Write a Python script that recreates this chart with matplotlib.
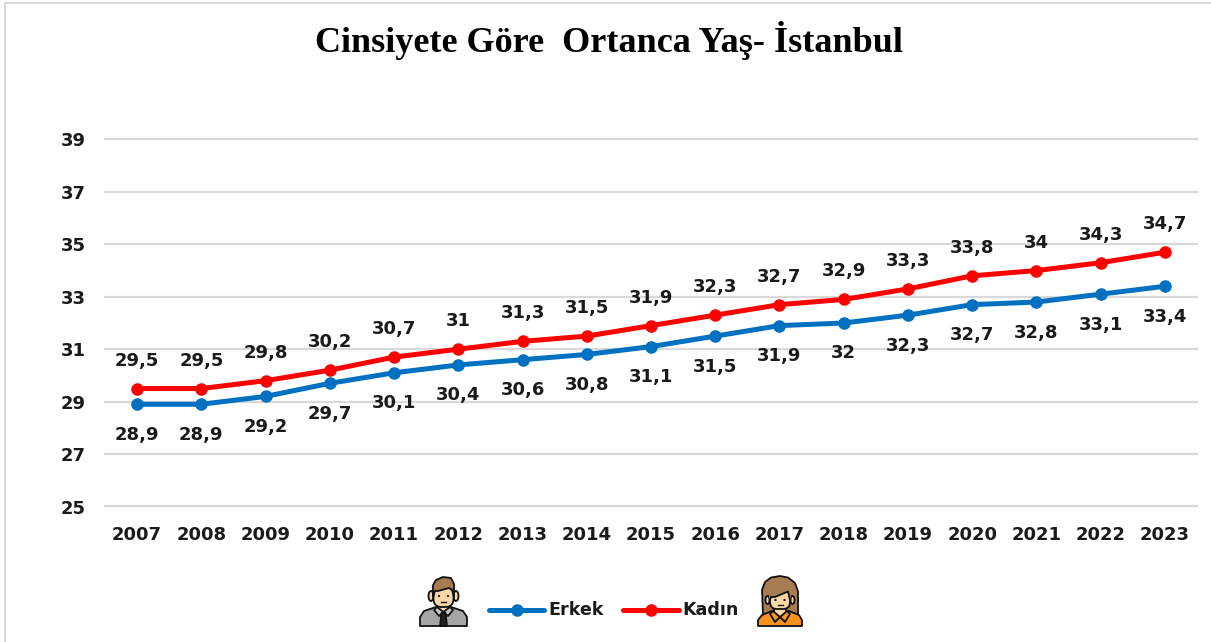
import matplotlib
matplotlib.use("Agg")
import matplotlib.pyplot as plt
from matplotlib.patches import Polygon, Ellipse, Circle, FancyBboxPatch, Rectangle
from matplotlib.lines import Line2D

years = [2007, 2008, 2009, 2010, 2011, 2012, 2013, 2014, 2015, 2016, 2017, 2018, 2019, 2020, 2021, 2022, 2023]
erkek = [28.9, 28.9, 29.2, 29.7, 30.1, 30.4, 30.6, 30.8, 31.1, 31.5, 31.9, 32.0, 32.3, 32.7, 32.8, 33.1, 33.4]
kadin = [29.5, 29.5, 29.8, 30.2, 30.7, 31.0, 31.3, 31.5, 31.9, 32.3, 32.7, 32.9, 33.3, 33.8, 34.0, 34.3, 34.7]
y_ticks = [25, 27, 29, 31, 33, 35, 37, 39]
title = "Cinsiyete Göre  Ortanca Yaş- İstanbul"

W, H = 1211, 642
BLUE, RED, INK = "#0070C0", "#FF0000", "#1a1a1a"
plt.rcParams["font.family"] = ["DejaVu Sans"]
plt.rcParams["font.weight"] = "bold"

fig = plt.figure(figsize=(W / 100, H / 100), dpi=100, facecolor="white")
ax = fig.add_axes([105 / W, 1 - 506.5 / H, (1197 - 105) / W, (506.5 - 139.5) / H])
xs = list(range(len(years)))
ax.set_xlim(-0.5, len(years) - 0.5)
ax.set_ylim(25, 39)
ax.set_yticks(y_ticks)
ax.set_xticks(xs, [str(y) for y in years])
ax.grid(axis="y", color="#d9d9d9", lw=1.6, clip_on=False)
for gl in ax.get_ygridlines():
    gl.set_clip_on(False)
ax.set_axisbelow(True)
for s in ax.spines.values():
    s.set_visible(False)
ax.tick_params(length=0, labelsize=13, labelcolor=INK)
ax.tick_params(axis="x", pad=14)
ax.tick_params(axis="y", pad=14)

def fmt(v):
    return f"{v:g}".replace(".", ",")

for vals, color, off in ((erkek, BLUE, -30.5), (kadin, RED, 28)):
    ax.plot(xs, vals, color=color, lw=3.6, marker="o", ms=8, solid_capstyle="round", clip_on=False, zorder=3)
    for x, v in zip(xs, vals):
        ax.annotate(fmt(v), (x, v), xytext=(0, off * 0.72), textcoords="offset points",
                    ha="center", va="center", fontsize=13, color=INK, annotation_clip=False)

# overlay in pixel coordinates: frame, title, legend and icons
ov = fig.add_axes([0, 0, 1, 1], facecolor="none")
ov.set_xlim(0, W)
ov.set_ylim(H, 0)
ov.axis("off")
ov.add_patch(Rectangle((4, 2), W - 4, 2.4, color="#d9d9d9", lw=0))
ov.add_patch(Rectangle((4, 2), 2.4, H - 2, color="#d9d9d9", lw=0))
ov.text(609, 40, title, family="Liberation Serif", fontsize=26, weight="bold",
        ha="center", va="center", color="black")

for x0, x1, c, tx, name in ((489, 544, BLUE, 548, "Erkek"), (623, 679, RED, 682, "Kadın")):
    ov.add_line(Line2D([x0, x1], [610, 610], color=c, lw=3.6, solid_capstyle="round"))
    ov.add_line(Line2D([(x0 + x1) / 2], [610], color=c, marker="o", ms=8))
    ov.text(tx, 610, name, fontsize=12.6, ha="left", va="center", color=INK)

LW = 1.3
K = "#111111"
HAIR = "#A67C52"
SKIN = "#FAD7A8"
def poly(pts, fc, z=5):
    ov.add_patch(Polygon(pts, closed=True, fc=fc, ec=K, lw=LW, joinstyle="round", zorder=z))

# man icon
poly([(420, 626), (420, 617), (424, 611), (436, 607), (451, 607), (463, 611), (467, 617), (467, 626)], "#A6A6A6")
poly([(437, 599), (450, 599), (450, 610), (443.5, 615), (437, 610)], SKIN, 6)
poly([(443.5, 612), (437, 607), (434, 610), (439, 616)], "#C8C8C8", 7)
poly([(443.5, 612), (450, 607), (453, 610), (448, 616)], "#C8C8C8", 7)
poly([(441.5, 613), (445.5, 613), (447, 626), (440, 626)], "#222222", 7)
ov.add_patch(Ellipse((431, 596), 5, 10, fc=SKIN, ec=K, lw=LW, zorder=5))
ov.add_patch(Ellipse((456, 596), 5, 10, fc=SKIN, ec=K, lw=LW, zorder=5))
ov.add_patch(FancyBboxPatch((433.5, 586), 20, 21, boxstyle="round,pad=0,rounding_size=8",
                            fc=SKIN, ec=K, lw=LW, zorder=6))
poly([(433, 597), (433, 585), (436, 580), (443, 577), (451, 578), (454, 584), (454, 597),
      (452, 590), (449, 588), (438, 591), (435, 591)], HAIR, 7)
for px in (439, 448):
    ov.add_patch(Circle((px, 596), 0.9, fc=K, ec=K, lw=0.3, zorder=8))
ov.add_line(Line2D([441, 446], [602, 602], color=K, lw=1, zorder=8))

# woman icon
poly([(763, 614), (762, 590), (765, 582), (771, 577.5), (780, 576), (788, 577.5), (795, 583), (798, 591), (798, 614)],
     HAIR)
poly([(758, 626), (758, 620), (762, 615), (772, 611), (789, 611), (799, 615), (802, 620), (802, 626)], "#F7931E", 6)
poly([(774, 604), (786, 604), (786, 613), (780, 618), (774, 613)], SKIN, 7)
poly([(780, 617), (773, 611), (770, 614), (775, 622)], "#F7931E", 8)
poly([(780, 617), (787, 611), (790, 614), (785, 622)], "#F7931E", 8)
ov.add_patch(Ellipse((767.5, 600), 4, 8, fc=SKIN, ec=K, lw=LW, zorder=7))
ov.add_patch(Ellipse((792.5, 600), 4, 8, fc=SKIN, ec=K, lw=LW, zorder=7))
ov.add_patch(FancyBboxPatch((770, 590), 20, 19, boxstyle="round,pad=0,rounding_size=7",
                            fc=SKIN, ec=K, lw=LW, zorder=7))
ov.add_patch(Polygon([(769, 599), (769, 586), (791, 586), (791, 600), (788, 592), (775, 597), (771, 597)],
                     closed=True, fc=HAIR, ec="none", zorder=8))
ov.add_line(Line2D([770, 771, 775, 788, 790], [600, 597, 597, 591.5, 600], color=K, lw=LW, zorder=9))
for px in (775.5, 784.5):
    ov.add_patch(Circle((px, 600), 0.9, fc=K, ec=K, lw=0.3, zorder=9))
ov.add_line(Line2D([777.5, 782.5], [605, 605], color=K, lw=1, zorder=9))

fig.savefig("out.png", dpi=100, facecolor="white")
